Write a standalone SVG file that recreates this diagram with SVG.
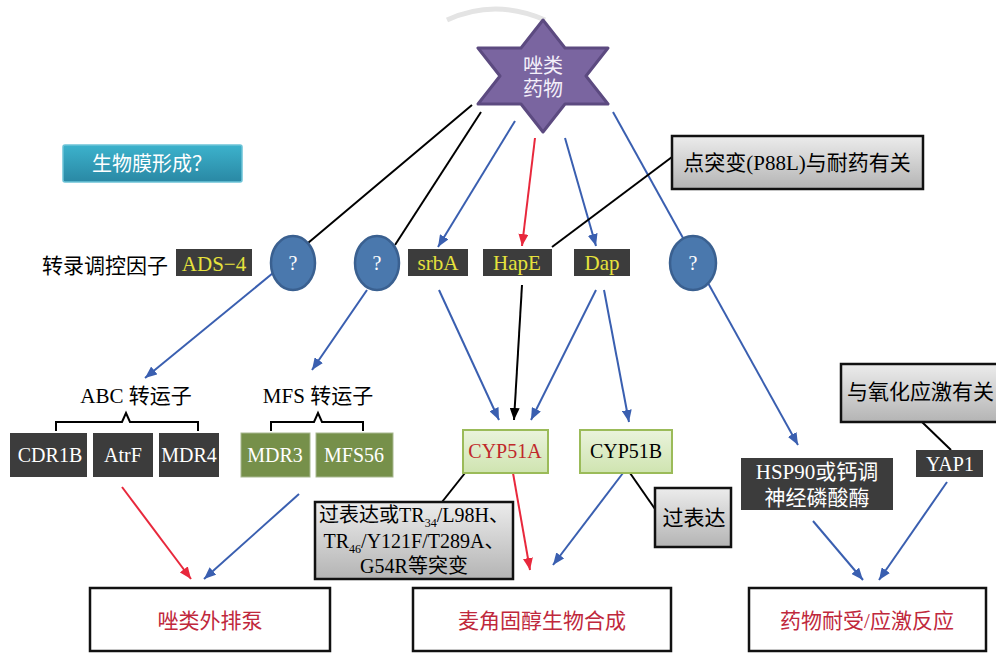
<svg xmlns="http://www.w3.org/2000/svg" width="996" height="655" viewBox="0 0 996 655">
<defs>
<linearGradient id="gGrey" x1="0" y1="0" x2="0" y2="1"><stop offset="0" stop-color="#ececec"/><stop offset="1" stop-color="#b4b4b4"/></linearGradient>
<linearGradient id="gTeal" x1="0" y1="0" x2="0" y2="1"><stop offset="0" stop-color="#3cb2cc"/><stop offset="1" stop-color="#2a88a4"/></linearGradient>
<linearGradient id="gGreen" x1="0" y1="0" x2="0" y2="1"><stop offset="0" stop-color="#eaf3dc"/><stop offset="1" stop-color="#cfe4b0"/></linearGradient>
<marker id="aB" viewBox="0 0 12 10" refX="12" refY="5" markerWidth="12" markerHeight="10" markerUnits="userSpaceOnUse" orient="auto"><path d="M0,0 L12,5 L0,10 Z" fill="#3a5fb0"/></marker>
<marker id="aR" viewBox="0 0 12 10" refX="12" refY="5" markerWidth="12" markerHeight="10" markerUnits="userSpaceOnUse" orient="auto"><path d="M0,0 L12,5 L0,10 Z" fill="#e8283c"/></marker>
<marker id="aK" viewBox="0 0 12 10" refX="12" refY="5" markerWidth="12" markerHeight="10" markerUnits="userSpaceOnUse" orient="auto"><path d="M0,0 L12,5 L0,10 Z" fill="#000"/></marker>
</defs>
<style>
text{font-family:"Liberation Serif","Noto Sans CJK SC",serif;font-size:21px;}
.c{text-anchor:middle;}
.dark{fill:#3c3c3c;}
.yel{fill:#e6e23c;}
.wht{fill:#ffffff;}
.olive{fill:#76904a;stroke:#a8b890;stroke-width:1;}
.grey{fill:url(#gGrey);stroke:#111;stroke-width:2.5;}
.green{fill:url(#gGreen);stroke:#9bbb59;stroke-width:2;}
.circ{fill:#4a78ad;stroke:#3a6090;stroke-width:2.5;}
.out{fill:#fff;stroke:#111;stroke-width:2.5;}
.red{fill:#c0283c;}
.lb{stroke:#3a5fb0;stroke-width:2;fill:none;}
.lr{stroke:#e8283c;stroke-width:2;fill:none;}
.lk{stroke:#000;stroke-width:2;fill:none;}
.s20{font-size:20px;}
</style>

<g id="arc-decor"><path d="M447,20 Q495,-2 545,20" fill="none" stroke="#e4e4e4" stroke-width="5"/></g>

<g id="connectors">
<line class="lk" x1="472" y1="105" x2="308" y2="243"/>
<line class="lk" x1="481" y1="112" x2="395" y2="245"/>
<line class="lb" x1="515" y1="121" x2="438" y2="247" marker-end="url(#aB)"/>
<line class="lr" x1="535" y1="138" x2="522" y2="246" marker-end="url(#aR)"/>
<line class="lb" x1="565" y1="138" x2="596" y2="246" marker-end="url(#aB)"/>
<line class="lb" x1="613" y1="112" x2="798" y2="445" marker-end="url(#aB)"/>
<line class="lk" x1="672" y1="157" x2="552" y2="247"/>
<line class="lb" x1="273" y1="273" x2="145" y2="378" marker-end="url(#aB)"/>
<line class="lb" x1="367" y1="290" x2="312" y2="370" marker-end="url(#aB)"/>
<path class="lk" d="M56,431 V422 H122 L126,413 L130,422 H198 V431"/>
<path class="lk" d="M271,431 V422 H314 L318,413 L322,422 H363 V431"/>
<line class="lb" x1="439" y1="290" x2="499" y2="420" marker-end="url(#aB)"/>
<line class="lk" x1="522" y1="285" x2="514" y2="420" marker-end="url(#aK)"/>
<line class="lb" x1="596" y1="290" x2="531" y2="420" marker-end="url(#aB)"/>
<line class="lb" x1="604" y1="290" x2="629" y2="422" marker-end="url(#aB)"/>
<line class="lk" x1="465" y1="473" x2="442" y2="502"/>
<line class="lk" x1="630" y1="473" x2="655" y2="509"/>
<line class="lr" x1="513" y1="473" x2="530" y2="570" marker-end="url(#aR)"/>
<line class="lb" x1="623" y1="473" x2="553" y2="565" marker-end="url(#aB)"/>
<line class="lr" x1="122" y1="487" x2="191" y2="579" marker-end="url(#aR)"/>
<line class="lb" x1="299" y1="494" x2="204" y2="579" marker-end="url(#aB)"/>
<line class="lk" x1="922" y1="422" x2="951" y2="450"/>
<line class="lb" x1="813" y1="521" x2="863" y2="580" marker-end="url(#aB)"/>
<line class="lb" x1="947" y1="482" x2="879" y2="580" marker-end="url(#aB)"/>
</g>

<g id="azole">
<path d="M543,20 L565,48 L608,48 L586,76 L608,104 L565,104 L543,132 L521,104 L478,104 L500,76 L478,48 L521,48 Z" fill="#7a65a0" stroke="#5c4a80" stroke-width="3" stroke-linejoin="round"/>
<text class="c s20" x="543" y="73" fill="#f4f0fa">唑类</text>
<text class="c s20" x="543" y="96" fill="#f4f0fa">药物</text>
</g>

<g id="biofilm">
<rect x="63" y="145" width="179" height="37" rx="2" fill="url(#gTeal)" stroke="#6cc4d8" stroke-width="1.5"/>
<text class="c wht s20" x="152" y="171">生物膜形成？</text>
</g>

<g id="tf-label"><text x="42" y="273" font-size="21.5">转录调控因子</text></g>
<g id="ads4"><rect class="dark" x="176" y="249" width="76" height="27"/><text class="c yel" x="214" y="271">ADS−4</text></g>

<g id="q1"><ellipse class="circ" cx="293" cy="263" rx="22" ry="27"/><text class="c wht s20" x="293" y="270">?</text></g>
<g id="q2"><ellipse class="circ" cx="377" cy="263" rx="22" ry="27"/><text class="c wht s20" x="377" y="270">?</text></g>
<g id="q3"><ellipse class="circ" cx="693" cy="263" rx="23" ry="27"/><text class="c wht s20" x="693" y="270">?</text></g>

<g id="srbA"><rect class="dark" x="408" y="249" width="60" height="27"/><text class="c yel" x="438" y="270">srbA</text></g>
<g id="HapE"><rect class="dark" x="483" y="249" width="69" height="27"/><text class="c yel" x="517" y="270">HapE</text></g>
<g id="Dap"><rect class="dark" x="574" y="249" width="56" height="27"/><text class="c yel" x="602" y="270">Dap</text></g>

<g id="p88l"><rect class="grey" x="672" y="136" width="251" height="53"/><text class="c" x="797" y="170">点突变(P88L)与耐药有关</text></g>

<g id="abc-label"><text class="c" x="136" y="403">ABC 转运子</text></g>
<g id="mfs-label"><text class="c" x="318" y="403">MFS 转运子</text></g>

<g id="CDR1B"><rect class="dark" x="10" y="433" width="77" height="44"/><text class="c wht s20" x="50" y="462">CDR1B</text></g>
<g id="AtrF"><rect class="dark" x="93" y="433" width="60" height="44"/><text class="c wht s20" x="123" y="462">AtrF</text></g>
<g id="MDR4"><rect class="dark" x="159" y="433" width="60" height="44"/><text class="c wht s20" x="189" y="462">MDR4</text></g>
<g id="MDR3"><rect class="olive" x="241" y="433" width="69" height="44"/><text class="c wht s20" x="275" y="462">MDR3</text></g>
<g id="MFS56"><rect class="olive" x="316" y="433" width="77" height="44"/><text class="c wht s20" x="354" y="462">MFS56</text></g>

<g id="CYP51A"><rect class="green" x="463" y="430" width="85" height="43"/><text class="c s20" x="505" y="458" fill="#c0282a">CYP51A</text></g>
<g id="CYP51B"><rect class="green" x="580" y="430" width="92" height="43"/><text class="c s20" x="626" y="458">CYP51B</text></g>

<g id="mutations">
<rect class="grey" x="315" y="502" width="198" height="77"/>
<text class="c s20" x="414" y="522">过表达或TR<tspan font-size="12" dy="5">34</tspan><tspan dy="-5">/L98H、</tspan></text>
<text class="c s20" x="414" y="548">TR<tspan font-size="12" dy="5">46</tspan><tspan dy="-5">/Y121F/T289A、</tspan></text>
<text class="c s20" x="414" y="573">G54R等突变</text>
</g>

<g id="overexpr"><rect class="grey" x="655" y="488" width="76" height="59"/><text class="c" x="694" y="525">过表达</text></g>

<g id="hsp90"><rect class="dark" x="741" y="458" width="152" height="52"/><text class="c wht" x="817" y="479">HSP90或钙调</text><text class="c wht" x="817" y="505">神经磷酸酶</text></g>
<g id="YAP1"><rect class="dark" x="916" y="450" width="67" height="27"/><text class="c wht s20" x="950" y="471">YAP1</text></g>
<g id="oxstress"><rect class="grey" x="841" y="364" width="165" height="58"/><text x="847" y="399">与氧化应激有关</text></g>

<g id="efflux"><rect class="out" x="90" y="588" width="240" height="63"/><text class="c red" x="210" y="628">唑类外排泵</text></g>
<g id="ergosterol"><rect class="out" x="413" y="588" width="258" height="63"/><text class="c red" x="542" y="628">麦角固醇生物合成</text></g>
<g id="tolerance"><rect class="out" x="749" y="588" width="237" height="63"/><text class="c red" x="867" y="628">药物耐受/应激反应</text></g>
</svg>
